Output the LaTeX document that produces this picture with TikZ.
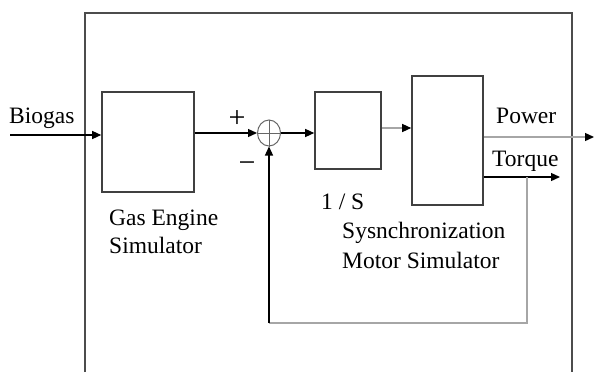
\documentclass[tikz,border=0pt]{standalone}
\usepackage{fontspec}
\setmainfont{Liberation Serif}
\usepackage{tikz}
\usetikzlibrary{arrows.meta,positioning,shapes.geometric,calc}

\begin{document}
\begin{tikzpicture}[
  x=1pt, y=-1pt,
  box/.style={draw=black!75, line width=1.6pt, inner sep=0pt},
  arrow/.style={-{Triangle[length=9pt,width=8pt,color=black]}, line width=1.3pt},
  lite/.style={draw=black!35, line width=1.2pt},
  lbl/.style={font=\fontsize{23.5}{28}\selectfont, inner sep=0pt, anchor=base west, align=left},
  sign/.style={font=\fontsize{30}{30}\selectfont, inner sep=0pt}
]
\useasboundingbox (0,0) rectangle (594,372);
% outer frame, open at the bottom
\draw[black!70, line width=1.6pt] (85,372) -- (85,13) -- (572,13) -- (572,372);

\node[box, minimum width=92pt, minimum height=100pt] (gas) at (148,142) {};
\node[draw=black!60, line width=1pt, ellipse, minimum width=23pt, minimum height=26pt, inner sep=0pt] (sum) at (269,133) {};
\node[box, minimum width=66pt, minimum height=77pt] (integ) at (348,130.5) {};
\node[box, minimum width=71pt, minimum height=129pt] (motor) at (447.5,140.5) {};

% plus sign inside the summing point
\draw[black!60, line width=1pt] (sum.north) -- (sum.south) (sum.west) -- (sum.east);

\coordinate (bio) at (10,135);
\coordinate (pw) at (594,137);
\coordinate (tq) at (560,177);
\coordinate (fb) at (527,323);

% signal flow
\draw[arrow] (bio) -- (bio -| gas.west);
\draw[arrow] (gas.east |- sum) -- (sum.west);
\draw[arrow] (sum.east) -- (sum -| integ.west);
\draw[arrow, black!35] (integ.east |- 0,128) -- (motor.west |- 0,128);
\draw[arrow, black!35] (motor.east |- pw) -- (pw);
\draw[arrow] (motor.east |- tq) -- (tq);
\draw[lite] (fb |- tq) -- (fb) -- (fb -| sum);
\draw[arrow] (fb -| sum) -- (sum.south);

% labels
\node[lbl] (lbio) at (9,123) {Biogas};
\node[sign] (lplus) at (237,119) {+};
\node[sign] (lminus) at (247,167) {\textminus};
\node[lbl] (lgas) at (109,253) {Gas Engine\\Simulator};
\node[lbl] (linteg) at (321,209) {1 / S};
\node[lbl, font=\fontsize{23.5}{30}\selectfont] (lmotor) at (342,268) {Sysnchronization\\Motor Simulator};
\node[lbl] (lpw) at (496,123) {Power};
\node[lbl] (ltq) at (492,166) {Torque};
\end{tikzpicture}
\end{document}
